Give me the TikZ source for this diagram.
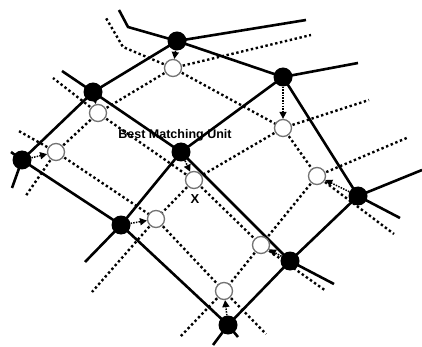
\documentclass[tikz,border=0pt]{standalone}
\usepackage{fontspec}
\setmainfont{Liberation Sans}
\usetikzlibrary{arrows.meta}
\begin{document}
\begin{tikzpicture}[x=1pt,y=-1pt,
 old/.style={circle,fill=black,inner sep=0pt,minimum size=19pt},
 new/.style={circle,draw=black!55,fill=white,line width=1.3pt,inner sep=0pt,minimum size=17pt},
 oldgrid/.style={line width=2.6pt},
 newgrid/.style={line width=2.4pt,dash pattern=on 2.4pt off 2.6pt},
 move/.style={line width=1.5pt,dash pattern=on 1.5pt off 1.2pt,-{Triangle[length=7pt,width=7pt]}},
 lbl/.style={inner sep=0pt}]
\useasboundingbox (0,0) rectangle (422,347);
% old positions
\coordinate (Ap) at (177,41);
\coordinate (Bp) at (93,92);
\coordinate (Cp) at (283,77);
\coordinate (Dp) at (22,160);
\coordinate (Ep) at (181,152);
\coordinate (Fp) at (121,225);
\coordinate (Gp) at (358,196);
\coordinate (Hp) at (290,261);
\coordinate (Ip) at (228,325);
% new positions
\coordinate (ap) at (173,68);
\coordinate (bp) at (98,113);
\coordinate (cp) at (283,128);
\coordinate (dp) at (56,152);
\coordinate (ep) at (194,180);
\coordinate (fp) at (156,219);
\coordinate (gp) at (317,176);
\coordinate (hp) at (261,245);
\coordinate (ip) at (224,291);
% stub ends
\coordinate (As1) at (306,20); \coordinate (As2) at (128,27); \coordinate (As3) at (119,10);
\coordinate (Bs) at (62,71);
\coordinate (Cs) at (358,63);
\coordinate (Ds1) at (11,152); \coordinate (Ds2) at (12,188);
\coordinate (Fs) at (85,262);
\coordinate (Gs1) at (422,170); \coordinate (Gs2) at (400,218);
\coordinate (Hs) at (334,284);
\coordinate (Is1) at (213,345); \coordinate (Is2) at (238,337);
\coordinate (as1) at (311,35); \coordinate (as2) at (123,47); \coordinate (as3) at (106,18);
\coordinate (bs) at (53,78);
\coordinate (cs) at (369,100);
\coordinate (ds1) at (17,130); \coordinate (ds2) at (25,197);
\coordinate (fs) at (92,292);
\coordinate (gs1) at (409,137); \coordinate (gs2) at (394,234);
\coordinate (hs) at (326,291);
\coordinate (is1) at (180,337); \coordinate (is2) at (266,334);
% new grid (dotted)
\draw[newgrid] (ap) -- (bp) (ap) -- (cp) (ap) -- (as1) (ap) -- (as2) -- (as3)
 (bp) -- (dp) (bp) -- (ep) (bp) -- (bs)
 (cp) -- (ep) (cp) -- (gp) (cp) -- (cs)
 (dp) -- (fp) (dp) -- (ds1) (dp) -- (ds2)
 (ep) -- (fp) (ep) -- (hp)
 (fp) -- (ip) (fp) -- (fs)
 (gp) -- (hp) (gp) -- (gs1) (gp) -- (gs2)
 (hp) -- (ip) (hp) -- (hs)
 (ip) -- (is1) (ip) -- (is2);
% old grid (solid)
\draw[oldgrid] (Ap) -- (Bp) (Ap) -- (Cp) (Ap) -- (As1) (Ap) -- (As2) -- (As3)
 (Bp) -- (Dp) (Bp) -- (Ep) (Bp) -- (Bs)
 (Cp) -- (Ep) (Cp) -- (Gp) (Cp) -- (Cs)
 (Dp) -- (Fp) (Dp) -- (Ds1) (Dp) -- (Ds2)
 (Ep) -- (Fp) (Ep) -- (Hp)
 (Fp) -- (Ip) (Fp) -- (Fs)
 (Gp) -- (Hp) (Gp) -- (Gs1) (Gp) -- (Gs2)
 (Hp) -- (Ip) (Hp) -- (Hs)
 (Ip) -- (Is1) (Ip) -- (Is2);
% nodes
\foreach \n in {a,b,c,d,e,f,g,h,i} {\node[new] (\n) at (\n p) {};}
\foreach \n in {A,B,C,D,E,F,G,H,I} {\node[old] (\n) at (\n p) {};}
% moves
\foreach \s/\t in {A/a,B/b,C/c,D/d,E/e,F/f,G/g,H/h,I/i} {\draw[move] (\s) -- (\t);}
% labels
\node[lbl,font=\bfseries\fontsize{12.5}{14}\selectfont] (bmu) at (175,135) {Best Matching Unit};
\node[lbl,font=\bfseries\fontsize{13}{14}\selectfont] (x) at (195,199) {X};
\end{tikzpicture}
\end{document}
